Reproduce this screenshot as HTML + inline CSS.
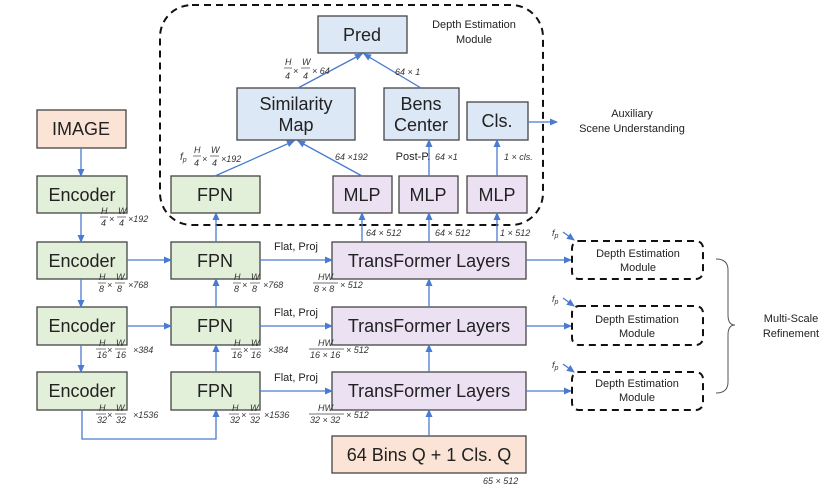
<!DOCTYPE html>
<html><head><meta charset="utf-8"><style>
html,body{margin:0;padding:0;background:#fff}
svg{display:block}
text{font-family:"Liberation Sans",sans-serif}
.b{font-size:18px;fill:#222}
.s{font-size:9px;font-style:italic;fill:#333}
.n{font-size:11px;fill:#222}
</style></head><body>
<svg width="831" height="489" viewBox="0 0 831 489" xmlns="http://www.w3.org/2000/svg">
<defs><marker id="a" markerWidth="8" markerHeight="8" refX="7" refY="4" orient="auto" markerUnits="userSpaceOnUse"><path d="M0,0.5 L8,4 L0,7.5z" fill="#4a7bd0"/></marker></defs>
<rect x="160" y="5" width="383" height="220" rx="32" fill="none" stroke="#111" stroke-width="2" stroke-dasharray="7,5"/>
<text x="474" y="28" text-anchor="middle" class="n">Depth Estimation</text>
<text x="474" y="43" text-anchor="middle" class="n">Module</text>
<g stroke="#444" stroke-width="1.3">
<rect x="318" y="16" width="89" height="37" fill="#dce8f5"/>
<rect x="237" y="88" width="118" height="52" fill="#dce8f5"/>
<rect x="384" y="88" width="75" height="52" fill="#dce8f5"/>
<rect x="467" y="102" width="61" height="38" fill="#dce8f5"/>
<rect x="171" y="176" width="89" height="37" fill="#e2efd9"/>
<rect x="333" y="176" width="59" height="37" fill="#ebe1f3"/>
<rect x="399" y="176" width="59" height="37" fill="#ebe1f3"/>
<rect x="467" y="176" width="60" height="37" fill="#ebe1f3"/>
<rect x="37" y="110" width="89" height="38" fill="#fbe4d5"/>
<rect x="37" y="176" width="90" height="37" fill="#e2efd9"/>
<rect x="37" y="242" width="90" height="37" fill="#e2efd9"/>
<rect x="37" y="307" width="90" height="38" fill="#e2efd9"/>
<rect x="37" y="372" width="90" height="38" fill="#e2efd9"/>
<rect x="171" y="242" width="89" height="37" fill="#e2efd9"/>
<rect x="171" y="307" width="89" height="38" fill="#e2efd9"/>
<rect x="171" y="372" width="89" height="38" fill="#e2efd9"/>
<rect x="332" y="242" width="194" height="37" fill="#ebe1f3"/>
<rect x="332" y="307" width="194" height="38" fill="#ebe1f3"/>
<rect x="332" y="372" width="194" height="38" fill="#ebe1f3"/>
<rect x="332" y="436" width="194" height="37" fill="#fbe4d5"/>
</g>
<g class="b" text-anchor="middle">
<text x="362" y="41">Pred</text>
<text x="296" y="110">Similarity</text><text x="296" y="131">Map</text>
<text x="421" y="110">Bens</text><text x="421" y="131">Center</text>
<text x="497" y="127">Cls.</text>
<text x="215" y="201">FPN</text>
<text x="362" y="201">MLP</text><text x="428" y="201">MLP</text><text x="497" y="201">MLP</text>
<text x="81" y="135">IMAGE</text>
<text x="82" y="201">Encoder</text><text x="82" y="267">Encoder</text><text x="82" y="332">Encoder</text><text x="82" y="397">Encoder</text>
<text x="215" y="267">FPN</text><text x="215" y="332">FPN</text><text x="215" y="397">FPN</text>
<text x="429" y="267">TransFormer Layers</text><text x="429" y="332">TransFormer Layers</text><text x="429" y="397">TransFormer Layers</text>
<text x="429" y="461">64 Bins Q + 1 Cls. Q</text>
</g>
<g stroke="#4a7bd0" stroke-width="1.3" fill="none" marker-end="url(#a)">
<line x1="81" y1="148" x2="81" y2="176"/>
<line x1="81" y1="213" x2="81" y2="242"/>
<line x1="81" y1="279" x2="81" y2="307"/>
<line x1="81" y1="345" x2="81" y2="372"/>
<polyline points="82,410 82,439 216,439 216,410"/>
<line x1="127" y1="260" x2="171" y2="260"/>
<line x1="127" y1="326" x2="171" y2="326"/>
<line x1="216" y1="372" x2="216" y2="345"/>
<line x1="216" y1="307" x2="216" y2="279"/>
<line x1="216" y1="242" x2="216" y2="213"/>
<line x1="260" y1="260" x2="332" y2="260"/>
<line x1="260" y1="326" x2="332" y2="326"/>
<line x1="260" y1="391" x2="332" y2="391"/>
<line x1="429" y1="436" x2="429" y2="410"/>
<line x1="429" y1="372" x2="429" y2="345"/>
<line x1="429" y1="307" x2="429" y2="279"/>
<line x1="362" y1="242" x2="362" y2="213"/>
<line x1="429" y1="242" x2="429" y2="213"/>
<line x1="497" y1="242" x2="497" y2="213"/>
<line x1="429" y1="176" x2="429" y2="140"/>
<line x1="497" y1="176" x2="497" y2="140"/>
<line x1="215" y1="176" x2="294" y2="141"/>
<line x1="362" y1="176" x2="298" y2="141"/>
<line x1="298" y1="88" x2="362" y2="54"/>
<line x1="421" y1="88" x2="364" y2="54"/>
<line x1="528" y1="122" x2="557" y2="122"/>
<line x1="526" y1="260" x2="571" y2="260"/>
<line x1="526" y1="326" x2="571" y2="326"/>
<line x1="526" y1="391" x2="571" y2="391"/>
<line x1="563" y1="232" x2="574" y2="240"/>
<line x1="563" y1="298" x2="574" y2="306"/>
<line x1="563" y1="364" x2="574" y2="372"/>
</g>
<g fill="none" stroke="#111" stroke-width="2" stroke-dasharray="7,5">
<rect x="572" y="241" width="131" height="38" rx="7"/>
<rect x="572" y="306" width="131" height="39" rx="7"/>
<rect x="572" y="372" width="131" height="38" rx="7"/>
</g>
<g class="n" text-anchor="middle">
<text x="638" y="257">Depth Estimation</text><text x="638" y="271">Module</text>
<text x="637" y="323">Depth Estimation</text><text x="637" y="337">Module</text>
<text x="637" y="387">Depth Estimation</text><text x="637" y="401">Module</text>
<text x="632" y="117">Auxiliary</text><text x="632" y="132">Scene Understanding</text>
<text x="791" y="322">Multi-Scale</text><text x="791" y="337">Refinement</text>
<text x="296" y="250">Flat, Proj</text><text x="296" y="316">Flat, Proj</text><text x="296" y="381">Flat, Proj</text>
<text x="413" y="160">Post-P.</text>
</g>
<path d="M716,259 Q728,259 728,270 L728,315 Q728,325 735,325 Q728,325 728,335 L728,382 Q728,393 716,393" fill="none" stroke="#555" stroke-width="1"/>
<g class="s">
<text x="552" y="236">f<tspan font-size="7" dy="2">p</tspan></text>
<text x="552" y="302">f<tspan font-size="7" dy="2">p</tspan></text>
<text x="552" y="368">f<tspan font-size="7" dy="2">p</tspan></text>
<text x="180" y="160" font-size="10">f<tspan font-size="7" dy="2">p</tspan></text>
<text x="395" y="75">64 × 1</text>
<text x="335" y="160">64 ×192</text>
<text x="435" y="160">64 ×1</text>
<text x="504" y="160">1 × cls.</text>
<text x="366" y="236">64 × 512</text><text x="435" y="236">64 × 512</text><text x="500" y="236">1 × 512</text>
<text x="483" y="484">65 × 512</text>
<text x="285" y="65">H</text><text x="285" y="79">4</text><text x="293" y="74">×</text><text x="302" y="65">W</text><text x="303" y="79">4</text><text x="312" y="74">× 64</text>
<text x="194" y="153">H</text><text x="194" y="166">4</text><text x="202" y="162">×</text><text x="211" y="153">W</text><text x="212" y="166">4</text><text x="221" y="162">×192</text>
<text x="101" y="214">H</text><text x="101" y="226">4</text><text x="109" y="222">×</text><text x="118" y="214">W</text><text x="119" y="226">4</text><text x="128" y="222">×192</text>
<text x="99" y="280">H</text><text x="99" y="292">8</text><text x="107" y="288">×</text><text x="116" y="280">W</text><text x="117" y="292">8</text><text x="128" y="288">×768</text>
<text x="234" y="280">H</text><text x="234" y="292">8</text><text x="242" y="288">×</text><text x="251" y="280">W</text><text x="252" y="292">8</text><text x="263" y="288">×768</text>
<text x="99" y="346">H</text><text x="97" y="358">16</text><text x="107" y="353">×</text><text x="116" y="346">W</text><text x="116" y="358">16</text><text x="133" y="353">×384</text>
<text x="234" y="346">H</text><text x="232" y="358">16</text><text x="243" y="353">×</text><text x="251" y="346">W</text><text x="251" y="358">16</text><text x="268" y="353">×384</text>
<text x="99" y="411">H</text><text x="97" y="423">32</text><text x="107" y="418">×</text><text x="116" y="411">W</text><text x="116" y="423">32</text><text x="133" y="418">×1536</text>
<text x="232" y="411">H</text><text x="230" y="423">32</text><text x="241" y="418">×</text><text x="250" y="411">W</text><text x="250" y="423">32</text><text x="264" y="418">×1536</text>
<text x="318" y="280">HW</text><text x="314" y="292">8 × 8</text><text x="340" y="288">× 512</text>
<text x="318" y="346">HW</text><text x="310" y="358">16 × 16</text><text x="346" y="353">× 512</text>
<text x="318" y="411">HW</text><text x="310" y="423">32 × 32</text><text x="346" y="418">× 512</text>
</g>
<g stroke="#444" stroke-width="0.7">
<line x1="284" y1="68" x2="292" y2="68"/><line x1="301" y1="68" x2="310" y2="68"/>
<line x1="193" y1="156" x2="201" y2="156"/><line x1="210" y1="156" x2="219" y2="156"/>
<line x1="100" y1="217" x2="108" y2="217"/><line x1="117" y1="217" x2="126" y2="217"/>
<line x1="98" y1="283" x2="106" y2="283"/><line x1="115" y1="283" x2="125" y2="283"/>
<line x1="233" y1="283" x2="241" y2="283"/><line x1="250" y1="283" x2="260" y2="283"/>
<line x1="96" y1="349" x2="106" y2="349"/><line x1="115" y1="349" x2="126" y2="349"/>
<line x1="231" y1="349" x2="241" y2="349"/><line x1="250" y1="349" x2="261" y2="349"/>
<line x1="96" y1="414" x2="106" y2="414"/><line x1="115" y1="414" x2="126" y2="414"/>
<line x1="229" y1="414" x2="239" y2="414"/><line x1="249" y1="414" x2="260" y2="414"/>
<line x1="313" y1="283" x2="338" y2="283"/><line x1="309" y1="349" x2="344" y2="349"/><line x1="309" y1="414" x2="344" y2="414"/>
</g>
</svg>
</body></html>
